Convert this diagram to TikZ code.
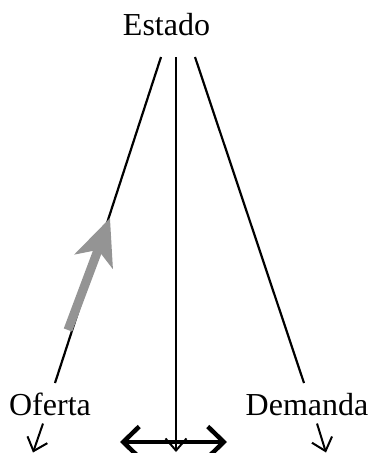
\documentclass[tikz,border=0pt]{standalone}
\usepackage{fontspec}
\setmainfont{Liberation Serif}
\usetikzlibrary{arrows.meta}

\begin{document}
\begin{tikzpicture}[x=1pt, y=-1pt,
		etiquette/.style	= {font=\fontsize{32}{36}\selectfont, inner sep=0pt, anchor=base},
		trait/.style		= {line width=2.2pt},
		fleche/.style		= {line width=2pt, -{Straight Barb[length=12pt, width=21pt]}}]
				% Cadre
				\useasboundingbox 	(0,0)		rectangle	(375,453)	;
				% Etiquettes
				\node [etiquette]	(estado)	at (166.5,35)	{Estado}	;
				\node [etiquette]	(oferta)	at (50,415)		{Oferta}	;
				\node [etiquette]	(demanda)	at (307,415)	{Demanda}	;
				% Points
				\coordinate (hautG)	at (161,57)	;	\coordinate (basG)	at (55,383)	;
				\coordinate (hautC)	at (176,57)	;	\coordinate (basC)	at (176,452);
				\coordinate (hautD)	at (195,57)	;	\coordinate (basD)	at (304,383);
				% Traits
				\draw [trait]			(hautG)	-- (basG)	;
				\draw [trait, fleche]	(hautC)	-- (basC)	;
				\draw [trait]			(hautD)	-- (basD)	;
				% Fleches sous les etiquettes
				\draw [fleche]	(oferta.south)	++(-7,8)	-- ++(-10,29)	;
				\draw [fleche]	(demanda.south)	++(10,8)	-- ++(9,29)	;
				% Double fleche
				\draw [line width=4.5pt, {Straight Barb[length=16pt, width=31pt]}-{Straight Barb[length=16pt, width=31pt]}]
					(120,442) -- (227,442) ;
				% Fleche grise
				\draw [black!42, line width=9pt, -{Stealth[length=46pt, width=40pt, inset=12pt]}]
					(68,330) -- (110,218) ;
\end{tikzpicture}
\end{document}
